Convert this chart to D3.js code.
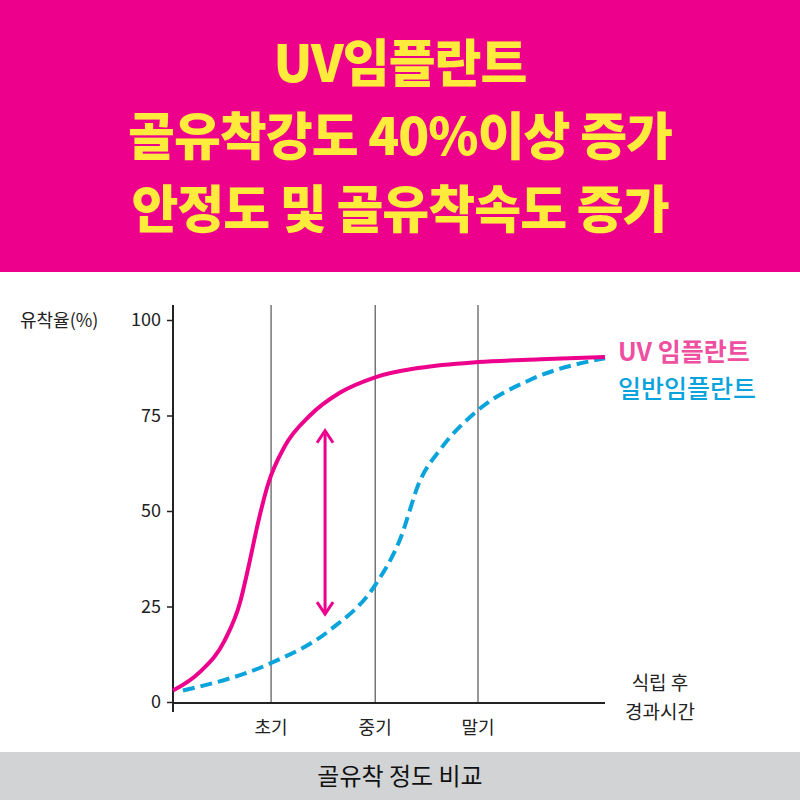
<!DOCTYPE html>
<html><head><meta charset="utf-8">
<script src="https://cdn.jsdelivr.net/npm/d3@7"></script>
<style>body{margin:0}svg{display:block}</style></head>
<body><svg id="c" width="800" height="800"></svg>
<script>
const titleLines = ["UV임플란트", "골유착강도 40%이상 증가", "안정도 및 골유착속도 증가"];
const yTicks = [0, 25, 50, 75, 100];
const phaseLabels = ["초기", "중기", "말기"];
const phaseTimes = [22.7, 46.8, 70.6];
const uvT = [0, 6.25, 12, 15.5, 17.4, 19.7, 22, 25.9, 31.7, 38.7, 46.8, 57.2, 70.6, 85, 100];
const uvY = [3, 7.9, 16.2, 26, 35, 47, 57, 67, 75, 81, 85, 87.5, 89, 89.7, 90.3];
const genT = [2.3, 22.7, 36.3, 46.8, 52.5, 57.2, 61.8, 70.6, 82.6, 100];
const genY = [3, 10.2, 18.8, 30.6, 42.4, 58, 66, 76.4, 84.3, 90];
const arrowT = 35.2, arrowY = [71, 23];

const svg = d3.select("#c");
const F = "'Noto Sans CJK KR', sans-serif";
const pink = "#EC008C", blue = "#0BA3DC";
svg.append("rect").attr("width",800).attr("height",800).attr("fill","#fff");
svg.append("rect").attr("width",800).attr("height",272).attr("fill",pink);
svg.selectAll(".t").data(titleLines).join("text")
  .attr("x",400).attr("y",(d,i)=>82+i*73).attr("text-anchor","middle")
  .attr("font-family",F).attr("font-weight",900).attr("font-size",51)
  .attr("letter-spacing",-1).attr("fill","#FFEB3B").text(d=>d);
svg.append("rect").attr("y",752).attr("width",800).attr("height",48).attr("fill","#D1D3D4");
svg.append("text").attr("x",400).attr("y",785).attr("text-anchor","middle")
  .attr("font-family",F).attr("font-size",24).attr("fill","#111").text("골유착 정도 비교");

const x = d3.scaleLinear().domain([0,100]).range([173,605]);
const y = d3.scaleLinear().domain([0,100]).range([702,320]);

phaseTimes.forEach((t,i)=>{
  svg.append("line").attr("x1",x(t)).attr("x2",x(t)).attr("y1",305).attr("y2",702)
    .attr("stroke","#333").attr("stroke-width",1);
  svg.append("text").attr("x",x(t)).attr("y",734).attr("text-anchor","middle")
    .attr("font-family",F).attr("font-size",18).attr("fill","#222").text(phaseLabels[i]);
});
const ax = svg.append("g").attr("transform","translate(173,0)")
  .call(d3.axisLeft(y).tickValues(yTicks).tickSize(6).tickPadding(6));
ax.select(".domain").remove();
ax.selectAll("text").attr("font-family",F).attr("font-size",18).attr("fill","#222");
ax.selectAll("line").attr("stroke","#222").attr("stroke-width",1.5);
svg.append("line").attr("x1",173).attr("x2",173).attr("y1",305).attr("y2",712).attr("stroke","#222").attr("stroke-width",2);
svg.append("line").attr("x1",173).attr("x2",605).attr("y1",703).attr("y2",703).attr("stroke","#222").attr("stroke-width",2);
svg.append("text").attr("x",20).attr("y",327).attr("font-family",F).attr("font-size",18).attr("fill","#222").text("유착율(%)");
svg.append("text").attr("x",660).attr("y",690).attr("text-anchor","middle").attr("font-family",F).attr("font-size",19).attr("fill","#222").text("식립 후");
svg.append("text").attr("x",660).attr("y",719).attr("text-anchor","middle").attr("font-family",F).attr("font-size",19).attr("fill","#222").text("경과시간");

const line = d3.line().x(d=>x(d[0])).y(d=>y(d[1])).curve(d3.curveMonotoneX);
svg.append("path").attr("d",line(genT.map((t,i)=>[t,genY[i]]))).attr("fill","none")
  .attr("stroke",blue).attr("stroke-width",4).attr("stroke-dasharray","12,6");
svg.append("path").attr("d",line(uvT.map((t,i)=>[t,uvY[i]]))).attr("fill","none")
  .attr("stroke",pink).attr("stroke-width",4);

const ax1 = x(arrowT), y1 = y(arrowY[0]), y2 = y(arrowY[1]);
svg.append("line").attr("x1",ax1).attr("x2",ax1).attr("y1",y1+3).attr("y2",y2-3).attr("stroke",pink).attr("stroke-width",3);
svg.append("path").attr("d",`M${ax1-8},${y1+12}L${ax1},${y1}L${ax1+8},${y1+12}`).attr("fill","none").attr("stroke",pink).attr("stroke-width",3);
svg.append("path").attr("d",`M${ax1-8},${y2-12}L${ax1},${y2}L${ax1+8},${y2-12}`).attr("fill","none").attr("stroke",pink).attr("stroke-width",3);

svg.append("text").attr("x",618).attr("y",361).attr("font-family",F).attr("font-weight",700).attr("font-size",25).attr("fill","#EE4FA0").text("UV 임플란트");
svg.append("text").attr("x",618).attr("y",398).attr("font-family",F).attr("font-weight",500).attr("font-size",25).attr("fill",blue).text("일반임플란트");
</script></body></html>
